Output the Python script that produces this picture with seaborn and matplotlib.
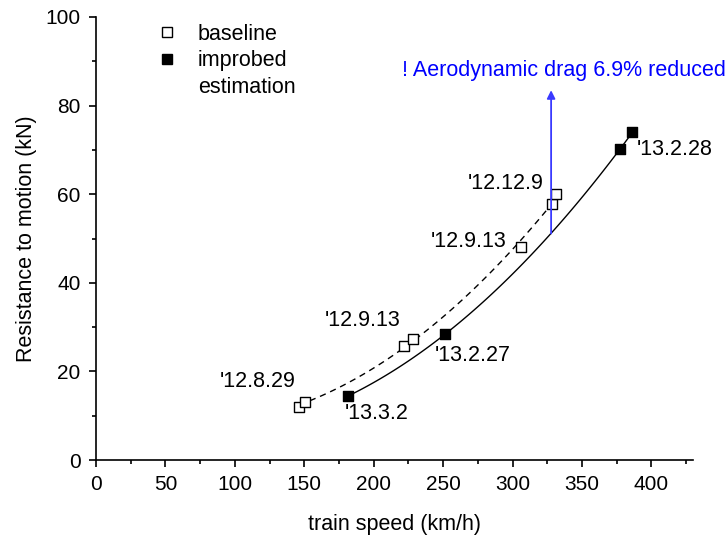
import numpy as np
import pandas as pd
import matplotlib
matplotlib.use('Agg')
import matplotlib.pyplot as plt
from matplotlib.lines import Line2D
from matplotlib.ticker import MultipleLocator
import seaborn as sns

# dados
base_speed = [146.5, 150.4, 221.9, 228.4, 306.0, 328.3, 331.4]
base_resist = [12.0, 13.2, 25.7, 27.3, 48.0, 57.9, 60.0]

impr_speed = [181.3, 251.4, 377.5, 386.4]
impr_resist = [14.4, 28.4, 70.2, 74.0]

# rótulos das datas (texto, x, y)
date_labels = ["'12.8.29", "'12.9.13", "'13.3.2", "'13.2.27", "'12.9.13", "'12.12.9", "'13.2.28"]
date_x = [89.3, 165.0, 179.4, 244.2, 241.4, 268.0, 389.8]
date_y = [17.7, 31.6, 10.6, 23.7, 49.4, 62.5, 70.2]

arrow_x = 327.8
arrow_y = [50.5, 84.1]
note = '! Aerodynamic drag 6.9% reduced'

df_base = pd.DataFrame({'speed': base_speed, 'resist': base_resist})
df_impr = pd.DataFrame({'speed': impr_speed, 'resist': impr_resist})

sns.set_style('ticks')
plt.rcParams['font.family'] = ['Liberation Sans', 'DejaVu Sans']
plt.rcParams['font.size'] = 15.5
plt.rcParams['text.color'] = 'black'
plt.rcParams['axes.labelcolor'] = 'black'

fig = plt.figure(figsize=(7.28, 5.37), dpi=100)
ax = fig.add_axes([96/728, 1 - 460/537, (693 - 96)/728, (460 - 17)/537])

# curvas de ajuste (quadráticas)
sns.regplot(data=df_base, x='speed', y='resist', order=2, ci=None, scatter=False,
            line_kws={'color': 'black', 'lw': 1, 'ls': (0, (4.5, 3.5))}, ax=ax)
sns.regplot(data=df_impr, x='speed', y='resist', order=2, ci=None, scatter=False,
            line_kws={'color': 'black', 'lw': 1}, ax=ax)

# pontos
sns.scatterplot(data=df_base, x='speed', y='resist', marker='s', s=42,
                facecolor='white', edgecolor='black', linewidth=1, ax=ax, zorder=3)
sns.scatterplot(data=df_impr, x='speed', y='resist', marker='s', s=42,
                color='black', edgecolor='black', linewidth=1, ax=ax, zorder=3)

for t, x, y in zip(date_labels, date_x, date_y):
    ax.text(x, y, t, ha='left', va='center', fontsize=15.5, color='black')

# seta azul
ax.annotate('', xy=(arrow_x, arrow_y[1]), xytext=(arrow_x, arrow_y[0]),
            arrowprops=dict(arrowstyle='-|>', color='#3a3aff', lw=1.3, mutation_scale=12))
ax.text(220.2, 87.9, note, color='#0000ff', ha='left', va='center', fontsize=15.5, clip_on=False)

# legenda
handles = [
    Line2D([], [], ls='none', marker='s', ms=6.5, mfc='white', mec='black', mew=1),
    Line2D([], [], ls='none', marker='s', ms=6.5, mfc='black', mec='black', mew=1),
    Line2D([], [], ls='none', marker=None),
]
ax.legend(handles, ['baseline', 'improbed', 'estimation'], frameon=False,
          loc='upper left', bbox_to_anchor=(156/728, 1 - 23.5/537), bbox_transform=fig.transFigure,
          borderpad=0, borderaxespad=0, handlelength=1.0, handletextpad=0.95,
          labelspacing=0.27, fontsize=15.5)

ax.set_xlim(0, 430)
ax.set_ylim(0, 100)
ax.xaxis.set_major_locator(MultipleLocator(50))
ax.xaxis.set_minor_locator(MultipleLocator(25))
ax.yaxis.set_major_locator(MultipleLocator(20))
ax.yaxis.set_minor_locator(MultipleLocator(10))
ax.set_xticks(np.arange(0, 401, 50))
ax.tick_params(which='major', direction='out', length=5, width=1.2, labelsize=15,
               colors='black', pad=6)
ax.tick_params(which='minor', direction='out', length=3, width=1.2, colors='black')
for s in ['left', 'bottom']:
    ax.spines[s].set_linewidth(1.2)
    ax.spines[s].set_color('black')
sns.despine(ax=ax)

ax.set_xlabel('train speed (km/h)', fontsize=15.5, labelpad=14)
ax.set_ylabel('Resistance to motion (kN)', fontsize=15.5, labelpad=6)

fig.savefig('out.png', dpi=100)
